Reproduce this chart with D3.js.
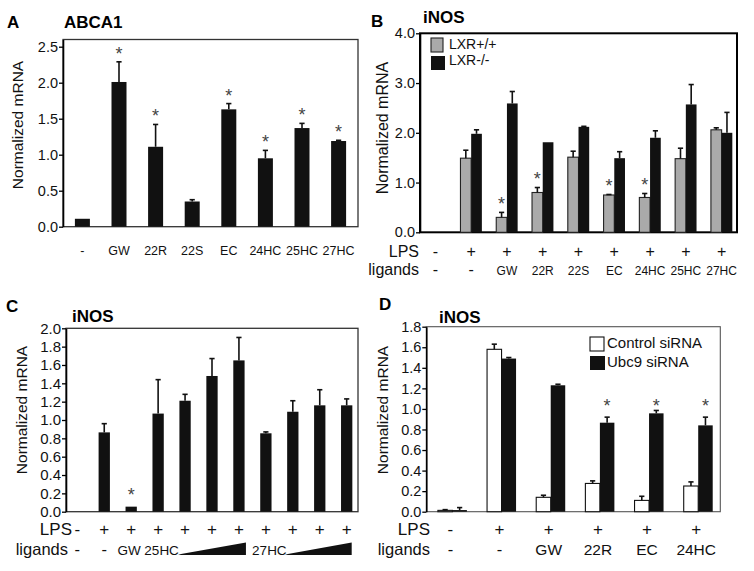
<!DOCTYPE html>
<html>
<head>
<meta charset="utf-8">
<script src="https://cdn.jsdelivr.net/npm/d3@7"></script>
<style>
  body { margin: 0; background: #fff; }
  svg { font-family: "Liberation Sans", Arial, Helvetica, sans-serif; }
</style>
</head>
<body>
<script>
// ---- data ----
// A: ABCA1
var aCats = ["-", "GW", "22R", "22S", "EC", "24HC", "25HC", "27HC"];
var aMean = [0.11, 2.01, 1.11, 0.35, 1.63, 0.95, 1.37, 1.19];
var aErr  = [0.0, 0.28, 0.31, 0.025, 0.08, 0.11, 0.065, 0.01];
var aSig  = [0, 1, 1, 0, 1, 1, 1, 1];
var aTicks = [0, 0.5, 1.0, 1.5, 2.0, 2.5];

// B: iNOS, LXR+/+ vs LXR-/-
var bSeries = ["LXR+/+", "LXR-/-"];
var bLPS  = ["-", "+", "+", "+", "+", "+", "+", "+", "+"];
var bLig  = ["-", "-", "GW", "22R", "22S", "EC", "24HC", "25HC", "27HC"];
var bWT    = [0, 1.49, 0.30, 0.80, 1.51, 0.75, 0.70, 1.48, 2.06];
var bWTErr = [0, 0.16, 0.10, 0.10, 0.12, 0.01, 0.08, 0.21, 0.04];
var bKO    = [0, 1.98, 2.59, 1.81, 2.12, 1.49, 1.90, 2.57, 2.00];
var bKOErr = [0, 0.08, 0.24, 0.0, 0.01, 0.13, 0.14, 0.40, 0.41];
var bSig   = [0, 0, 1, 1, 0, 1, 1, 0, 0];
var bTicks = [0, 1, 2, 3, 4];

// C: iNOS dose series
var cLPS = ["-", "+", "+", "+", "+", "+", "+", "+", "+", "+", "+"];
var cLig = ["-", "-", "GW", "25HC", "", "", "", "27HC", "", "", ""];
var cVal = [0, 0.865, 0.055, 1.07, 1.21, 1.48, 1.65, 0.855, 1.09, 1.16, 1.16];
var cErr = [0, 0.095, 0, 0.37, 0.07, 0.19, 0.25, 0.015, 0.12, 0.17, 0.07];
var cSig = [0, 0, 1, 0, 0, 0, 0, 0, 0, 0, 0];
var cRamps = [[4, 6], [8, 10]];   // group ranges under the dose wedges
var cTicks = [0, 0.2, 0.4, 0.6, 0.8, 1.0, 1.2, 1.4, 1.6, 1.8, 2.0];

// D: iNOS, control vs Ubc9 siRNA
var dSeries = ["Control siRNA", "Ubc9 siRNA"];
var dLPS = ["-", "+", "+", "+", "+", "+"];
var dLig = ["-", "-", "GW", "22R", "EC", "24HC"];
var dCtrl    = [0.013, 1.58, 0.14, 0.275, 0.11, 0.25];
var dCtrlErr = [0.007, 0.05, 0.02, 0.025, 0.04, 0.04];
var dUbc     = [0.016, 1.49, 1.23, 0.866, 0.957, 0.84];
var dUbcErr  = [0.024, 0.01, 0.01, 0.054, 0.028, 0.08];
var dSig     = [0, 0, 0, 1, 1, 1];
var dSigLevel = 1.07;
var dTicks = [0, 0.2, 0.4, 0.6, 0.8, 1.0, 1.2, 1.4, 1.6, 1.8];

var svg = d3.select("body").append("svg")
    .attr("width", 754)
    .attr("height", 571);

//draws frame, y axis and label for one panel, returns y scale
function setFrame(p){
    var y = d3.scaleLinear().domain(p.domain).range([p.bottom, p.top]);

    svg.append("rect")
        .attr("x", p.left).attr("y", y(p.domain[1]))
        .attr("width", p.right - p.left)
        .attr("height", p.bottom - y(p.domain[1]))
        .attr("fill", "none")
        .attr("stroke", p.boxColor)
        .attr("stroke-width", p.boxWidth);

    var ax = svg.append("g")
        .attr("transform", "translate(" + p.left + ",0)")
        .call(d3.axisLeft(y).tickValues(p.ticks).tickFormat(d3.format(".1f"))
            .tickSize(4).tickPadding(1).tickSizeOuter(0));
    ax.select(".domain").attr("stroke", "#000").attr("stroke-width", 1.6);
    ax.selectAll(".tick line").attr("stroke", "#000").attr("stroke-width", 1.3);
    ax.selectAll(".tick text")
        .attr("font-size", p.tickFont)
        .attr("font-family", "Liberation Sans, Arial, sans-serif")
        .attr("fill", "#111");

    svg.append("text")
        .attr("transform", "translate(" + p.labelX + "," + p.labelY + ") rotate(-90)")
        .attr("text-anchor", "middle")
        .attr("font-size", p.labelFont)
        .attr("fill", "#111")
        .text("Normalized mRNA");

    svg.append("text").attr("x", p.letterX).attr("y", p.letterY)
        .attr("font-size", 17).attr("font-weight", "bold").text(p.letter);
    svg.append("text").attr("x", p.titleX).attr("y", p.titleY)
        .attr("font-size", 17).attr("font-weight", "bold").text(p.title);
    return y;
}

//bars with error bars; cx = centre of each bar
function drawBars(vals, errs, cx, w, y, fill, stroke){
    vals.forEach(function(v, i){
        if (v <= 0) return;
        var g = svg.append("g");
        g.append("rect")
            .attr("x", cx(i) - w / 2).attr("y", y(v))
            .attr("width", w).attr("height", y(0) - y(v))
            .attr("fill", fill)
            .attr("stroke", stroke || "none")
            .attr("stroke-width", stroke ? 1.1 : 0);
        if (errs[i] > 0.004) {
            g.append("line")
                .attr("x1", cx(i)).attr("x2", cx(i))
                .attr("y1", y(v)).attr("y2", y(v + errs[i]))
                .attr("stroke", "#111").attr("stroke-width", 1.6);
            g.append("line")
                .attr("x1", cx(i) - 2.6).attr("x2", cx(i) + 2.6)
                .attr("y1", y(v + errs[i])).attr("y2", y(v + errs[i]))
                .attr("stroke", "#111").attr("stroke-width", 1.6);
        }
    });
}

//asterisk centred on (x, cy)
function star(x, cy){
    svg.append("text").attr("x", x).attr("y", cy + 10)
        .attr("text-anchor", "middle").attr("font-size", 18)
        .attr("fill", "#444").text("*");
}

//a row of labels under the groups, with an optional row title at the left
function rowText(list, xs, yPos, size, title, titleX, titleSize){
    svg.append("g").selectAll("text").data(list).join("text")
        .attr("x", function(d, i){ return xs(i); })
        .attr("y", yPos)
        .attr("text-anchor", "middle")
        .attr("font-size", function(d){ return d === "-" || d === "+" ? titleSize || size : size; })
        .attr("fill", "#111")
        .text(function(d){ return d; });
    if (title) {
        svg.append("text").attr("x", titleX).attr("y", yPos)
            .attr("text-anchor", "end").attr("font-size", titleSize)
            .attr("fill", "#111").text(title);
    }
}

// ---------------- panel A ----------------
var yA = setFrame({domain: [0, 2.6], top: 39.5, bottom: 226.7, left: 63, right: 358,
    ticks: aTicks, tickFont: 14.5, labelX: 23, labelY: 125, labelFont: 15.5,
    boxColor: "#333", boxWidth: 1.3,
    letter: "A", letterX: 7, letterY: 28, title: "ABCA1", titleX: 64, titleY: 28});
var xA = d3.scalePoint().domain(d3.range(aCats.length)).range([63, 358]).padding(0.53);
drawBars(aMean, aErr, xA, 15, yA, "#111");
aSig.forEach(function(s, i){ if (s) star(xA(i), yA(aMean[i] + aErr[i]) - 12); });
rowText(aCats, xA, 255, 12.5);

// ---------------- panel B ----------------
var yB = setFrame({domain: [0, 4], top: 33.3, bottom: 232.3, left: 420, right: 737,
    ticks: bTicks, tickFont: 14.5, labelX: 388, labelY: 128, labelFont: 16,
    boxColor: "#000", boxWidth: 2,
    letter: "B", letterX: 371, letterY: 27, title: "iNOS", titleX: 423, titleY: 23});
var xB = d3.scalePoint().domain(d3.range(bLPS.length)).range([420, 737]).padding(0.43);
var bw = 10.7;
drawBars(bWT, bWTErr, function(i){ return xB(i) - bw / 2; }, bw, yB, "#aaaaaa", "#222");
drawBars(bKO, bKOErr, function(i){ return xB(i) + bw / 2; }, bw, yB, "#111");
bSig.forEach(function(s, i){
    if (s) star(xB(i) - bw / 2, yB(bWT[i] + bWTErr[i]) - 12.5);
});
rowText(bLPS, xB, 256.5, 16, "LPS", 419, 16);
rowText(bLig, xB, 275, 12, "ligands", 419, 16);

// legend B
var legB = svg.append("g");
legB.append("rect").attr("x", 431).attr("y", 38).attr("width", 12).attr("height", 14)
    .attr("fill", "#aaaaaa").attr("stroke", "#222").attr("stroke-width", 1.1);
legB.append("rect").attr("x", 431).attr("y", 56).attr("width", 14).attr("height", 14)
    .attr("fill", "#111");
legB.selectAll("text").data(bSeries).join("text")
    .attr("x", 449).attr("y", function(d, i){ return 49 + i * 16; })
    .attr("font-size", 14).attr("fill", "#111").text(function(d){ return d; });

// ---------------- panel C ----------------
var yC = setFrame({domain: [0, 2], top: 328.3, bottom: 511.7, left: 66, right: 358,
    ticks: cTicks, tickFont: 15, labelX: 27, labelY: 410, labelFont: 15.5,
    boxColor: "#333", boxWidth: 1.3,
    letter: "C", letterX: 6, letterY: 312, title: "iNOS", titleX: 72, titleY: 322});
var xC = d3.scalePoint().domain(d3.range(cLPS.length)).range([66, 358]).padding(0.42);
drawBars(cVal, cErr, xC, 11.3, yC, "#111");
cSig.forEach(function(s, i){ if (s) star(xC(i), yC(cVal[i] + cErr[i]) - 15.5); });
rowText(cLPS, xC, 535, 17, "LPS", 72, 17);
//ligand names shift a little so GW and 25HC do not touch
rowText(cLig, function(i){
        var d = cLig[i];
        return xC(i) + (d.length > 2 ? 3.5 : d === "GW" ? -2 : 0);
    }, 555, 13.5, "ligands", 68, 16.5);
cRamps.forEach(function(r, k){
    var x1 = xC(r[0]) - (k === 0 ? 4 : 5), x2 = xC(r[1]) + (k === 0 ? 7 : 5);
    svg.append("polygon")
        .attr("points", [[x1 - 3, 555], [x2, 555], [x2, 542.5], [x1, 554]].join(" "))
        .attr("fill", "#111");
});

// ---------------- panel D ----------------
var yD = setFrame({domain: [0, 1.8], top: 326.7, bottom: 511.7, left: 426.3, right: 720.3,
    ticks: dTicks, tickFont: 14.5, labelX: 388, labelY: 410, labelFont: 15.5,
    boxColor: "#555", boxWidth: 1.1,
    letter: "D", letterX: 379, letterY: 310, title: "iNOS", titleX: 439, titleY: 323});
var xD = d3.scalePoint().domain(d3.range(dLPS.length)).range([426.3, 720.3]).padding(0.49);
var dw = 14.5;
drawBars(dCtrl, dCtrlErr, function(i){ return xD(i) + 2 - dw / 2; }, dw, yD, "#fff", "#111");
drawBars(dUbc, dUbcErr, function(i){ return xD(i) + 2 + dw / 2; }, dw, yD, "#111");
dSig.forEach(function(s, i){ if (s) star(xD(i) + 2 + dw / 2, yD(dSigLevel)); });
rowText(dLPS, xD, 535, 17, "LPS", 430, 17);
rowText(dLig, xD, 555, 15.5, "ligands", 430, 16.5);

// legend D
var legD = svg.append("g");
legD.append("rect").attr("x", 590).attr("y", 337).attr("width", 14).attr("height", 14)
    .attr("fill", "#fff").attr("stroke", "#111").attr("stroke-width", 1.1);
legD.append("rect").attr("x", 590).attr("y", 356).attr("width", 15).attr("height", 14)
    .attr("fill", "#111");
legD.selectAll("text").data(dSeries).join("text")
    .attr("x", 607).attr("y", function(d, i){ return 348 + i * 19; })
    .attr("font-size", 15).attr("fill", "#111").text(function(d){ return d; });
</script>
</body>
</html>
